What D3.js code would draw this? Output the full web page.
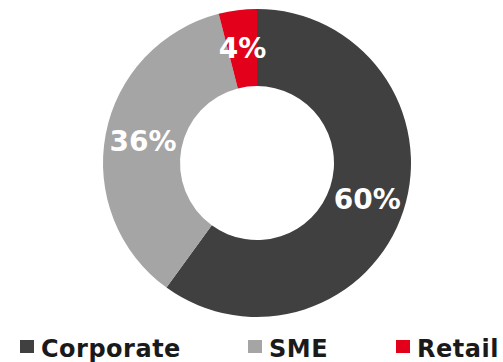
<!DOCTYPE html>
<html>
<head>
<meta charset="utf-8">
<script src="https://cdn.jsdelivr.net/npm/d3@7"></script>
<style>
  html, body { margin: 0; padding: 0; background: #fff; }
  svg { display: block; font-family: "DejaVu Sans", Verdana, sans-serif; font-weight: bold; }
</style>
</head>
<body>
<svg id="chart" width="503" height="362"></svg>
<script>
// Portfolio split by client segment (percent)
const categories = ["Corporate", "SME", "Retail"];
const shares = [60, 36, 4];
const labels = ["60%", "36%", "4%"];
const colors = ["#404040", "#A5A5A5", "#E2001A"];

const svg = d3.select("#chart");
const cx = 257, cy = 163, outerR = 154, innerR = 77;

const color = d3.scaleOrdinal().domain(categories).range(colors);

const pie = d3.pie().sort(null).value(d => d.value);
const data = categories.map((c, i) => ({ name: c, value: shares[i], label: labels[i] }));
const arcs = pie(data);

const arc = d3.arc().innerRadius(innerR).outerRadius(outerR);
const labelArc = d3.arc().innerRadius(116).outerRadius(116);

const g = svg.append("g").attr("transform", `translate(${cx},${cy})`);

g.selectAll("path.slice")
  .data(arcs)
  .join("path")
  .attr("class", "slice")
  .attr("d", arc)
  .attr("fill", d => color(d.data.name));

g.selectAll("text.val")
  .data(arcs)
  .join("text")
  .attr("class", "val")
  .attr("transform", d => `translate(${labelArc.centroid(d)})`)
  .attr("text-anchor", "middle")
  .attr("dy", "0.36em")
  .attr("fill", "#fff")
  .attr("font-size", 28)
  .text(d => d.data.label);

// Legend row along the bottom edge
const legendX = [20, 248, 396];
const sw = 14, pad = 7, baseline = 356.5;
const legend = svg.append("g");
const items = legend.selectAll("g.item")
  .data(categories)
  .join("g")
  .attr("class", "item")
  .attr("transform", (d, i) => `translate(${legendX[i]},0)`);

items.append("rect")
  .attr("x", 0).attr("y", 340)
  .attr("width", sw).attr("height", sw - 1)
  .attr("fill", d => color(d));

items.append("text")
  .attr("x", sw + pad)
  .attr("y", baseline)
  .attr("font-size", 24)
  .attr("letter-spacing", 0.5)
  .attr("fill", "#1a1a1a")
  .text(d => d);
</script>
</body>
</html>
